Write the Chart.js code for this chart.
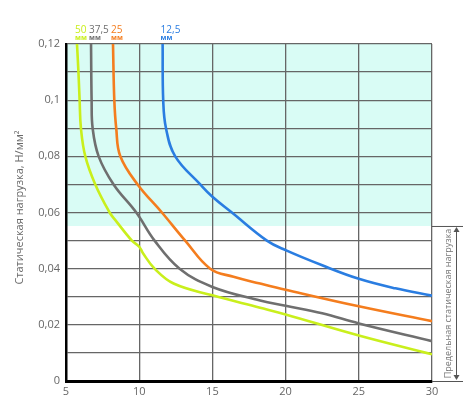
<!DOCTYPE html>
<html><head><meta charset="utf-8">
<script src="https://cdn.jsdelivr.net/npm/chart.js@4"></script>
<style>html,body{margin:0;padding:0;background:#fff}#wrap{width:470px;height:400px}</style>
</head><body><div id="wrap"><canvas id="c" width="470" height="400"></canvas></div>
<script>
const seriesNames = ['50', '37,5', '25', '12,5'];
const seriesUnit = 'мм';
const seriesColors = ['#c9ef1c', '#6f6f6f', '#f47d1e', '#2a7de1'];

const s50x = [5.75, 5.85, 5.93, 6.02, 6.32, 7.0, 7.98, 8.37, 9.5, 10.0, 10.27, 11.05, 12.35, 15.0, 18.26, 20, 25, 30];
const s50y = [0.12, 0.11, 0.10, 0.09, 0.08, 0.07, 0.06, 0.0573, 0.05, 0.0478, 0.0454, 0.04, 0.0347, 0.0305, 0.0261, 0.0237, 0.0162, 0.0095];

const s375x = [6.71, 6.75, 6.82, 7.23, 8.25, 9.8, 11.05, 12.76, 15.0, 18.26, 20, 22.5, 25, 30];
const s375y = [0.12, 0.10, 0.09, 0.08, 0.07, 0.06, 0.05, 0.04, 0.0335, 0.0287, 0.0268, 0.0241, 0.0205, 0.0142];

const s25x = [8.21, 8.3, 8.43, 8.71, 9.89, 11.55, 13.14, 14.85, 16.44, 18.26, 20, 25, 30];
const s25y = [0.12, 0.10, 0.09, 0.08, 0.07, 0.06, 0.05, 0.04, 0.0371, 0.0347, 0.0325, 0.0266, 0.0213];

const s125x = [11.6, 11.64, 11.83, 12.46, 14.17, 15.0, 16.33, 18.72, 20, 22.5, 25, 27.5, 30];
const s125y = [0.12, 0.10, 0.09, 0.08, 0.07, 0.0656, 0.06, 0.05, 0.0466, 0.0412, 0.0364, 0.0330, 0.0304];

const xTicks = [5, 10, 15, 20, 25, 30];
const yLabelValues = [0, 0.02, 0.04, 0.06, 0.08, 0.1, 0.12];
const limitLoad = 0.0552;
const yTitle = 'Статическая нагрузка, Н/мм²';
const limitTitle = 'Предельная статическая нагрузка';

const allX = [s50x, s375x, s25x, s125x];
const allY = [s50y, s375y, s25y, s125y];

const FONT = '"Open Sans", "Noto Sans", sans-serif';

const datasets = allX.map((xs, i) => ({
  label: seriesNames[i] + ' ' + seriesUnit,
  data: xs.map((x, j) => ({x: x, y: allY[i][j]})),
  borderColor: seriesColors[i],
  borderWidth: 2.6,
  pointRadius: 0,
  tension: 0.4,
  fill: false
}));

const decor = {
  id: 'decor',
  beforeDraw(chart) {
    const {ctx, chartArea, scales} = chart;
    const yb = scales.y.getPixelForValue(limitLoad);
    ctx.save();
    ctx.fillStyle = '#d9fcf5';
    ctx.fillRect(chartArea.left, chartArea.top, chartArea.right - chartArea.left, yb - chartArea.top);
    ctx.restore();
  },
  afterDraw(chart) {
    const {ctx, chartArea, scales} = chart;
    const yb = scales.y.getPixelForValue(limitLoad);
    const y0 = scales.y.getPixelForValue(0);
    ctx.save();
    allX.forEach((xs, i) => {
      const px = scales.x.getPixelForValue(xs[0]);
      ctx.fillStyle = seriesColors[i];
      ctx.textAlign = 'left';
      ctx.textBaseline = 'alphabetic';
      ctx.font = '10px ' + FONT;
      ctx.fillText(seriesNames[i], px - 2, 33);
      ctx.font = 'bold 7px ' + FONT;
      ctx.fillText(seriesUnit, px - 2, 40);
    });
    ctx.fillStyle = '#6a6a6a';
    ctx.font = '11px ' + FONT;
    ctx.translate(20, (chartArea.top + chartArea.bottom) / 2 - 5);
    ctx.rotate(-Math.PI / 2);
    ctx.textAlign = 'center';
    ctx.textBaseline = 'middle';
    ctx.fillText(yTitle, 0, 0);
    ctx.restore();

    ctx.save();
    ctx.strokeStyle = '#555';
    ctx.lineWidth = 1;
    const r = chartArea.right;
    ctx.beginPath();
    ctx.moveTo(r, yb + 0.5); ctx.lineTo(r + 31, yb + 0.5);
    ctx.moveTo(r, y0 + 0.5); ctx.lineTo(r + 31, y0 + 0.5);
    const ax = r + 24.5;
    ctx.moveTo(ax, yb + 2); ctx.lineTo(ax, y0 - 2);
    ctx.stroke();
    ctx.fillStyle = '#555';
    ctx.beginPath();
    ctx.moveTo(ax, yb + 1); ctx.lineTo(ax - 3, yb + 6); ctx.lineTo(ax + 3, yb + 6); ctx.closePath(); ctx.fill();
    ctx.beginPath();
    ctx.moveTo(ax, y0 - 1); ctx.lineTo(ax - 3, y0 - 6); ctx.lineTo(ax + 3, y0 - 6); ctx.closePath(); ctx.fill();
    ctx.fillStyle = '#777';
    ctx.font = '9px ' + FONT;
    ctx.translate(r + 16, (yb + y0) / 2);
    ctx.rotate(-Math.PI / 2);
    ctx.textAlign = 'center';
    ctx.textBaseline = 'middle';
    ctx.fillText(limitTitle, 0, 0);
    ctx.restore();
  }
};

new Chart(document.getElementById('c'), {
  type: 'line',
  data: {datasets},
  options: {
    responsive: false,
    animation: false,
    layout: {padding: {top: 44, right: 38, left: 0, bottom: 0}},
    plugins: {legend: {display: false}, tooltip: {enabled: false}},
    scales: {
      x: {
        type: 'linear', min: 5, max: 30,
        afterBuildTicks: (s) => { s.ticks = xTicks.map(v => ({value: v})); },
        ticks: {color: '#666', font: {family: FONT, size: 11}, padding: 4, maxRotation: 0},
        grid: {color: '#666', lineWidth: 1.3, drawTicks: false},
        border: {color: '#000', width: 3},
        afterFit: (s) => { s.height = 19; }
      },
      y: {
        type: 'linear', min: 0, max: 0.12,
        ticks: {
          stepSize: 0.01,
          color: '#666', font: {family: FONT, size: 11}, padding: 6,
          callback: (v) => {
            const m = yLabelValues.find(t => Math.abs(t - v) < 1e-6);
            return m === undefined ? '' : String(+m.toFixed(2)).replace('.', ',');
          }
        },
        grid: {color: '#666', lineWidth: 1.3, drawTicks: false},
        border: {color: '#000', width: 2.5},
        afterFit: (s) => { s.width = 66; }
      }
    }
  },
  plugins: [decor]
});
</script>
</body></html>
